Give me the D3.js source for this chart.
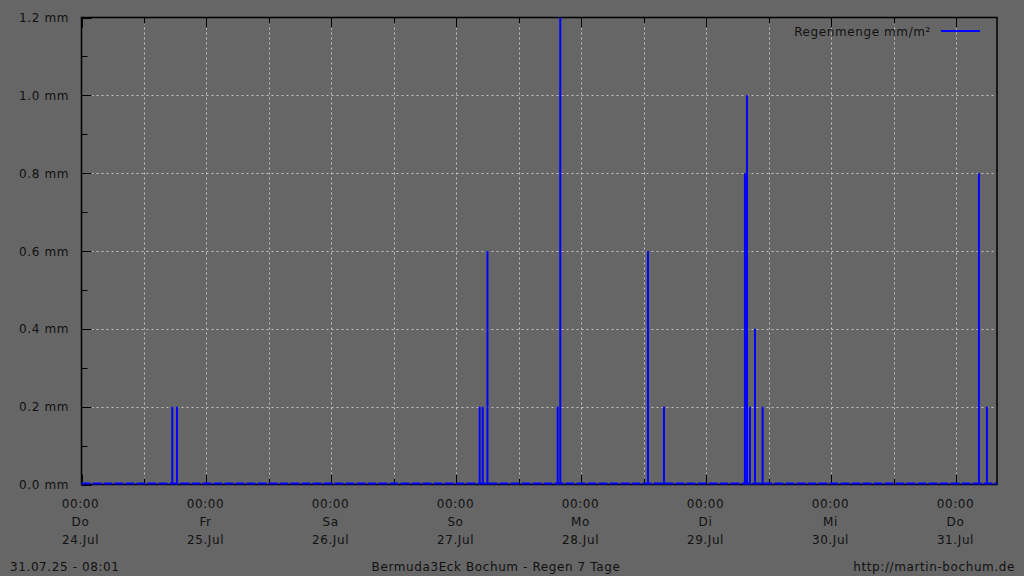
<!DOCTYPE html>
<html>
<head>
<meta charset="utf-8">
<script src="https://cdn.jsdelivr.net/npm/d3@7"></script>
<style>
  body { margin: 0; background: #666666; }
  svg text { font-family: "DejaVu Sans", sans-serif; font-size: 12px; fill: #111; letter-spacing: 0.6px; }
</style>
</head>
<body>
<div id="chartArea"></div>
<script>
// rain samples (time, mm)
const rainTimes = [
  "2025-07-24T17:26", "2025-07-24T18:20",
  "2025-07-27T04:27", "2025-07-27T05:02", "2025-07-27T05:57",
  "2025-07-27T19:26", "2025-07-27T19:56",
  "2025-07-28T12:46", "2025-07-28T15:50",
  "2025-07-29T07:23", "2025-07-29T07:47", "2025-07-29T08:21", "2025-07-29T09:19", "2025-07-29T10:47",
  "2025-07-31T04:19", "2025-07-31T05:51"
];
const rainValues = [
  0.2, 0.2,
  0.2, 0.2, 0.6,
  0.2, 1.2,
  0.6, 0.2,
  0.8, 1.0, 0.2, 0.4, 0.2,
  0.8, 0.2
];
const timeRange = ["2025-07-24T00:00", "2025-07-31T07:47"];
const dayNames = ["Do", "Fr", "Sa", "So", "Mo", "Di", "Mi", "Do"];
const dateLabels = ["24.Jul", "25.Jul", "26.Jul", "27.Jul", "28.Jul", "29.Jul", "30.Jul", "31.Jul"];
const yTicks = [0, 0.2, 0.4, 0.6, 0.8, 1.0, 1.2];
const seriesName = "Regenmenge mm/m²";

const drawGraph = () => {
  const width = 1024;
  const height = 576;
  const margin = { top: 17.5, left: 81.5, bottom: 91.5, right: 27 };
  const parse = d3.utcParse("%Y-%m-%dT%H:%M");
  const data = rainTimes.map((t, i) => ({ t: parse(t), v: rainValues[i] }));
  const domain = timeRange.map(parse);

  const svg = d3.select("#chartArea").append("svg")
    .attr("width", width)
    .attr("height", height);

  const x = d3.scaleUtc().domain(domain).range([margin.left, width - margin.right]);
  const y = d3.scaleLinear().domain([0, 1.2]).range([height - margin.bottom, margin.top]);

  const days = d3.utcDay.range(domain[0], domain[1]);
  const halfDays = d3.utcHour.every(12).range(domain[0], domain[1]);
  const yMinor = d3.range(0.1, 1.2, 0.2);

  //grid
  const grid = svg.append("g")
    .attr("stroke", "#c4c4c4")
    .attr("stroke-width", 1)
    .attr("stroke-dasharray", "2,3");
  grid.selectAll(".vg").data(halfDays.filter(d => +d > +domain[0])).enter().append("line")
    .attr("x1", d => Math.round(x(d)) + 0.5).attr("x2", d => Math.round(x(d)) + 0.5)
    .attr("y1", y(1.2)).attr("y2", y(0));
  grid.selectAll(".hg").data(yTicks.slice(1, -1)).enter().append("line")
    .attr("x1", x.range()[0]).attr("x2", x.range()[1])
    .attr("y1", d => Math.round(y(d)) + 0.5).attr("y2", d => Math.round(y(d)) + 0.5);

  //ticks
  const ticks = svg.append("g").attr("stroke", "#000").attr("stroke-width", 1);
  ticks.selectAll(".xt").data(halfDays).enter().append("line")
    .attr("x1", d => Math.round(x(d)) + 0.5).attr("x2", d => Math.round(x(d)) + 0.5)
    .attr("y1", y(1.2)).attr("y2", (d, i) => y(1.2) + (i % 2 ? 6 : 10));
  ticks.selectAll(".xb").data(halfDays).enter().append("line")
    .attr("x1", d => Math.round(x(d)) + 0.5).attr("x2", d => Math.round(x(d)) + 0.5)
    .attr("y1", y(0)).attr("y2", (d, i) => y(0) - (i % 2 ? 6 : 10));
  ticks.selectAll(".yt").data(yTicks).enter().append("line")
    .attr("x1", x.range()[0]).attr("x2", x.range()[0] + 10)
    .attr("y1", d => Math.round(y(d)) + 0.5).attr("y2", d => Math.round(y(d)) + 0.5);
  ticks.selectAll(".ym").data(yMinor).enter().append("line")
    .attr("x1", x.range()[0]).attr("x2", x.range()[0] + 6)
    .attr("y1", d => Math.round(y(d)) + 0.5).attr("y2", d => Math.round(y(d)) + 0.5);

  //frame
  svg.append("rect")
    .attr("x", x.range()[0]).attr("y", y(1.2))
    .attr("width", x.range()[1] - x.range()[0])
    .attr("height", y(0) - y(1.2))
    .attr("fill", "none").attr("stroke", "#000").attr("stroke-width", 1.5);

  //series baseline + impulses
  svg.append("line")
    .attr("x1", x(domain[0])).attr("x2", x(domain[1]))
    .attr("y1", y(0) - 1).attr("y2", y(0) - 1)
    .attr("stroke", "#0000ff").attr("stroke-width", 2)
    .attr("stroke-dasharray", "9,2");
  svg.append("g").selectAll("line").data(data).enter().append("line")
    .attr("x1", d => x(d.t)).attr("x2", d => x(d.t))
    .attr("y1", y(0)).attr("y2", d => y(d.v))
    .attr("stroke", "#0000ff").attr("stroke-width", 2);

  //y labels
  svg.append("g").selectAll("text").data(yTicks).enter().append("text")
    .attr("x", 69).attr("y", d => y(d) + 4.5)
    .attr("text-anchor", "end")
    .text(d => d3.format(".1f")(d) + " mm");

  //x labels
  const xl = svg.append("g").selectAll("g").data(days).enter().append("g")
    .attr("transform", d => `translate(${x(d) - 1},0)`)
    .attr("text-anchor", "middle");
  xl.append("text").attr("y", 508).text(d => d3.utcFormat("%H:%M")(d));
  xl.append("text").attr("y", 526).text((d, i) => dayNames[i]);
  xl.append("text").attr("y", 544).text((d, i) => dateLabels[i]);

  //legend
  svg.append("text").attr("x", 931).attr("y", 36).attr("text-anchor", "end").text(seriesName);
  svg.append("line").attr("x1", 941).attr("x2", 980).attr("y1", 31).attr("y2", 31)
    .attr("stroke", "#0000ff").attr("stroke-width", 2);

  //footer
  svg.append("text").attr("x", 10).attr("y", 571).text("31.07.25 - 08:01");
  svg.append("text").attr("x", 496).attr("y", 571).attr("text-anchor", "middle").text("Bermuda3Eck Bochum - Regen 7 Tage");
  svg.append("text").attr("x", 1015).attr("y", 571).attr("text-anchor", "end").text("http://martin-bochum.de");
};

drawGraph();
</script>
</body>
</html>
